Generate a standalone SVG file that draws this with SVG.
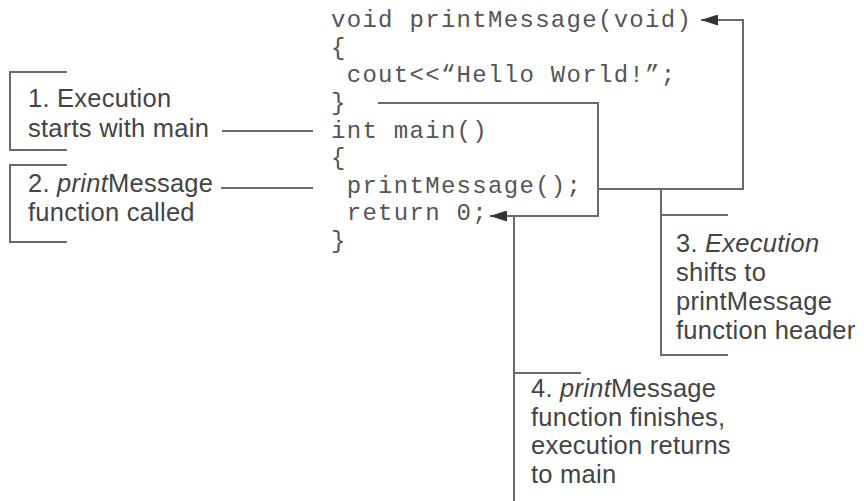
<svg xmlns="http://www.w3.org/2000/svg" width="864" height="501" viewBox="0 0 864 501">
<style>
.code{font-family:"Liberation Mono","Courier New",monospace;font-size:24px;letter-spacing:1.3px;fill:#555;white-space:pre}
.lbl{font-family:"Liberation Sans",Arial,sans-serif;font-size:25.5px;letter-spacing:0.25px;fill:#444}
.ln{fill:none;stroke:#6a6a6a;stroke-width:2}
.it{font-style:italic}
</style>
<defs>
<marker id="ah" markerWidth="17" markerHeight="11" refX="17" refY="5.5" orient="auto" markerUnits="userSpaceOnUse">
<path d="M0,0 L17,5.5 L0,11 Z" fill="#333"/>
</marker>
</defs>
<rect width="864" height="501" fill="#fff"/>
<g id="code">
<text class="code" x="331" y="27">void printMessage(void)</text>
<text class="code" x="331" y="54.5">{</text>
<text class="code" x="331" y="82"> cout&lt;&lt;“Hello World!”;</text>
<text class="code" x="331" y="109.5">}</text>
<text class="code" x="331" y="138">int main()</text>
<text class="code" x="331" y="165">{</text>
<text class="code" x="331" y="193"> printMessage();</text>
<text class="code" x="331" y="220"> return 0;</text>
<text class="code" x="331" y="247.5">}</text>
</g>
<g id="connectors">
<path class="ln" d="M598,189 H743 V20 H701" marker-end="url(#ah)"/>
<path class="ln" d="M378,103 H598 V216 H490" marker-end="url(#ah)"/>
<path class="ln" d="M222,131 H313"/>
<path class="ln" d="M221,188 H313"/>
<path class="ln" d="M661,189 V356"/>
<path class="ln" d="M514,216 V501"/>
</g>
<g id="label1">
<path class="ln" d="M67,72 H10 V150 H67"/>
<text class="lbl" x="28" y="107">1. Execution</text>
<text class="lbl" x="28" y="137">starts with main</text>
</g>
<g id="label2">
<path class="ln" d="M67,165 H10 V242 H67"/>
<text class="lbl" x="28" y="192">2. <tspan class="it">print</tspan>Message</text>
<text class="lbl" x="28" y="221">function called</text>
</g>
<g id="label3">
<path class="ln" d="M728,215 H661 M661,355 H728"/>
<text class="lbl" x="676" y="252">3. <tspan class="it">Execution</tspan></text>
<text class="lbl" x="676" y="281">shifts to</text>
<text class="lbl" x="676" y="310">printMessage</text>
<text class="lbl" x="676" y="339">function header</text>
</g>
<g id="label4">
<path class="ln" d="M514,373 H581"/>
<text class="lbl" x="531" y="397">4. <tspan class="it">print</tspan>Message</text>
<text class="lbl" x="531" y="425.5">function finishes,</text>
<text class="lbl" x="531" y="454">execution returns</text>
<text class="lbl" x="531" y="482.5">to main</text>
</g>
</svg>
